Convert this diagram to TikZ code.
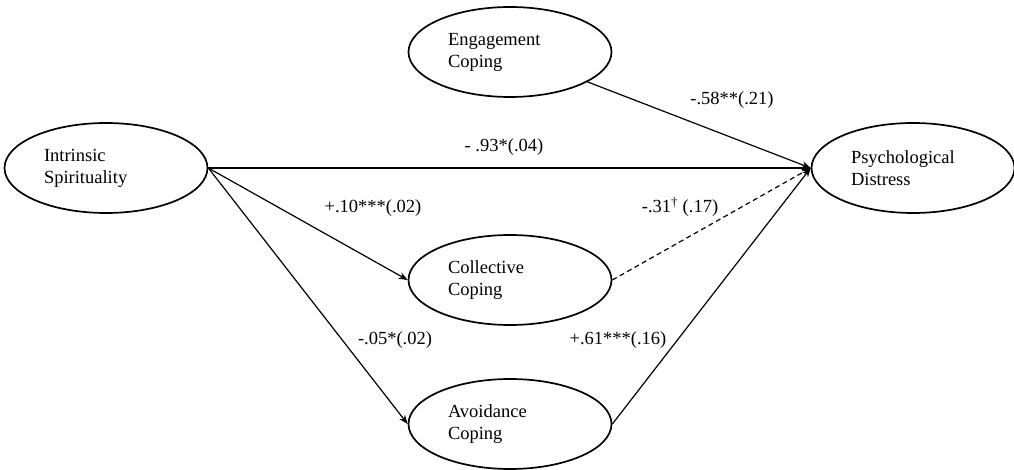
\documentclass[tikz,border=0pt]{standalone}
\usepackage{fontspec}
\setmainfont{Liberation Serif}
\usetikzlibrary{arrows.meta,shapes.geometric}
\begin{document}
\begin{tikzpicture}[x=1pt,y=-1pt,
  latent/.style={draw, line width=1.7pt, ellipse, minimum width=203pt, minimum height=90pt,
    inner sep=0pt, text width=124pt, align=left, font=\fontsize{18.5}{22}\selectfont},
  lbl/.style={font=\fontsize{18.5}{22}\selectfont, inner sep=1pt},
  path/.style={line width=1.2pt, -{Stealth[length=9pt,width=7pt]}},
  dpath/.style={path, dash pattern=on 5pt off 3.5pt}]
\useasboundingbox (0,0) rectangle (1014,470);
\node[latent] (intr) at (106,168) {Intrinsic\\Spirituality};
\node[latent] (eng) at (510,52) {Engagement\\Coping};
\node[latent] (psy) at (913,168) {Psychological\\Distress};
\node[latent] (col) at (510,280) {Collective\\Coping};
\node[latent] (avo) at (510,424) {Avoidance\\Coping};
\draw[path] (eng) -- (psy.west);
\draw[path] (intr.east) -- (psy.west);
\draw[path] (intr.east) -- (col.west);
\draw[path] (intr.east) -- (avo.west);
\draw[dpath] (col.east) -- (psy.west);
\draw[path] (avo.east) -- (psy.west);
\node[lbl] (l1) at (732,100) {-.58**(.21)};
\node[lbl] (l2) at (504,147) {- .93*(.04)};
\node[lbl] (l3) at (373,208) {+.10***(.02)};
\node[lbl] (l4) at (680,207) {-.31\textsuperscript{\textdagger} (.17)};
\node[lbl] (l5) at (395,340) {-.05*(.02)};
\node[lbl] (l6) at (618,340) {+.61***(.16)};
\end{tikzpicture}
\end{document}
